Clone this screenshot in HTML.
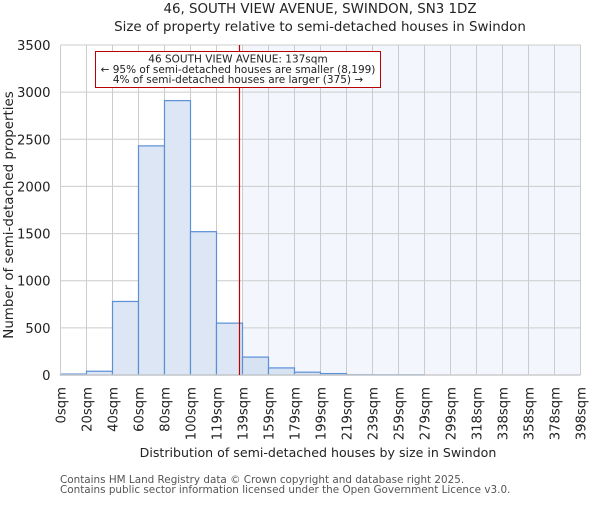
<!DOCTYPE html>
<html><head><meta charset="utf-8"><style>
body{margin:0;background:#fff}
svg text{font-family:"DejaVu Sans","Liberation Sans",sans-serif;fill:#222}
</style></head><body>
<svg id="chart" width="600" height="500" viewBox="0 0 600 500" xmlns="http://www.w3.org/2000/svg">
<text x="320" y="13" font-size="13.4" text-anchor="middle">46, SOUTH VIEW AVENUE, SWINDON, SN3 1DZ</text>
<text x="320" y="31" font-size="13.4" text-anchor="middle">Size of property relative to semi-detached houses in Swindon</text>
<g id="plot"></g>
<text x="318" y="457" font-size="12.6" text-anchor="middle">Distribution of semi-detached houses by size in Swindon</text>
<text transform="translate(13,215) rotate(-90)" font-size="13.4" text-anchor="middle">Number of semi-detached properties</text>
<text x="60" y="483" font-size="10.4" style="fill:#555">Contains HM Land Registry data © Crown copyright and database right 2025.</text>
<text x="60" y="493" font-size="10.4" style="fill:#555">Contains public sector information licensed under the Open Government Licence v3.0.</text>
</svg>
<script>
const binLabels=["0sqm","20sqm","40sqm","60sqm","80sqm","100sqm","119sqm","139sqm","159sqm","179sqm","199sqm","219sqm","239sqm","259sqm","279sqm","299sqm","318sqm","338sqm","358sqm","378sqm","398sqm"];
const counts=[10,40,780,2430,2910,1520,550,190,75,30,15,4,3,3,0,0,0,0,0,0];
const yTicks=[0,500,1000,1500,2000,2500,3000,3500];
const propertySize=137;
const binWidth=19.9;
const highlightFromBin=7;

const NS="http://www.w3.org/2000/svg";
const L=60.5,R=580.5,T=45,B=375,yMax=3500;
const nb=counts.length;
const xs=i=>L+(R-L)*i/nb;
const xv=v=>L+(R-L)*v/(binWidth*nb);
const ys=v=>B-(B-T)*v/yMax;
const g=document.getElementById('plot');
function mk(tag,attrs){const e=document.createElementNS(NS,tag);for(const k in attrs)e.setAttribute(k,attrs[k]);g.appendChild(e);return e;}

let e=mk('rect',{x:xs(highlightFromBin),y:T,width:R-xs(highlightFromBin),height:B-T,fill:'#f3f6fd'});


yTicks.forEach(v=>{
  const l=mk('line',{x1:L,x2:R,y1:ys(v),y2:ys(v),stroke:'#ccc','stroke-width':1});
  
  
  const t=mk('text',{x:L-10,y:ys(v)+5,'font-size':13.2,'text-anchor':'end'});
  t.textContent=v;
  
  
});
binLabels.forEach((s,i)=>{
  const l=mk('line',{x1:xs(i),x2:xs(i),y1:T,y2:B,stroke:'#ccc','stroke-width':1});
  
  
  const t=mk('text',{transform:`translate(${xs(i)+5},387) rotate(-90)`,'font-size':13.2,'text-anchor':'end'});
  t.textContent=s;
  
  
});
counts.forEach((c,i)=>{
  if(c<=0)return;
  const r=mk('rect',{x:xs(i),y:ys(c),width:xs(i+1)-xs(i),height:B-ys(c),fill:i>=highlightFromBin?'#d7e2f3':'#dce6f4',stroke:'#5b8fd6','stroke-width':1.2});
  
  
});
let ax=mk('line',{x1:L,x2:R,y1:B,y2:B,stroke:'#ccc','stroke-width':1.5});


let ay=mk('line',{x1:L,x2:L,y1:T,y2:B,stroke:'#ccc','stroke-width':1});


let pl=mk('line',{x1:xv(propertySize),x2:xv(propertySize),y1:T,y2:B,stroke:'#b00','stroke-width':1.2});


let box=mk('rect',{x:95.5,y:51.5,width:285,height:36,fill:'#fff',stroke:'#b00','stroke-width':1});


["46 SOUTH VIEW AVENUE: 137sqm","← 95% of semi-detached houses are smaller (8,199)","4% of semi-detached houses are larger (375) →"].forEach((s,i)=>{
  const t=mk('text',{x:238,y:62.5+i*10.3,'font-size':10.5,'text-anchor':'middle'});
  t.textContent=s;
  
  
});
</script>
</body></html>
